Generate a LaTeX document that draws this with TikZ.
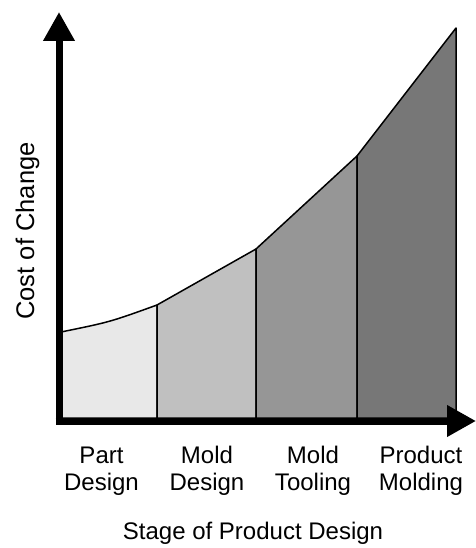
\documentclass[tikz,border=0pt]{standalone}
\usepackage{fontspec}
\setmainfont{Liberation Sans}
\usetikzlibrary{arrows.meta}
\definecolor{shadeA}{HTML}{E8E8E8}
\definecolor{shadeB}{HTML}{C0C0C0}
\definecolor{shadeC}{HTML}{969696}
\definecolor{shadeD}{HTML}{777777}
\begin{document}
\begin{tikzpicture}[x=1bp,y=-1bp,
  region/.style={draw=black,line width=1.5bp,line join=round},
  axisline/.style={line width=7bp,-{Triangle[length=29bp,width=30bp]}},
  lbl/.style={font=\fontsize{24bp}{27bp}\selectfont,align=center,inner sep=0pt}]
\useasboundingbox[fill=white] (0,0) rectangle (476,548);
% top outline points
\coordinate (p0) at (61,332);
\coordinate (p1) at (157,305);
\coordinate (p2) at (256,249);
\coordinate (p3) at (357,156);
\coordinate (p4) at (456,28);
% bottom points
\coordinate (b0) at (61,418);
\coordinate (b1) at (157,418);
\coordinate (b2) at (256,418);
\coordinate (b3) at (357,418);
\coordinate (b4) at (456,418);
\filldraw[region,fill=shadeA] (b0) -- (p0) .. controls (110,322) .. (p1) -- (b1) -- cycle;
\filldraw[region,fill=shadeB] (b1) -- (p1) -- (p2) -- (b2) -- cycle;
\filldraw[region,fill=shadeC] (b2) -- (p2) -- (p3) -- (b3) -- cycle;
\filldraw[region,fill=shadeD] (b3) -- (p3) -- (p4) -- (b4) -- cycle;
% axes
\coordinate (ystart) at (59,424.5);
\coordinate (xstart) at (55.5,421);
\coordinate (ytip) at (59,12);
\coordinate (xtip) at (476,421);
\draw[axisline] (ystart) -- (ytip);
\draw[axisline] (xstart) -- (xtip);
% labels
\node[lbl] (l1) at (101.5,471) {Part\\Design};
\node[lbl] (l2) at (207,471) {Mold\\Design};
\node[lbl] (l3) at (313,471) {Mold\\Tooling};
\node[lbl] (l4) at (421,471) {Product\\Molding};
\node[lbl,anchor=base] (xl) at (253,539) {Stage of Product Design};
\node[lbl,anchor=base,rotate=90,font=\fontsize{25.5bp}{28bp}\selectfont] (yl) at (34,231) {Cost of Change};
\end{tikzpicture}
\end{document}
